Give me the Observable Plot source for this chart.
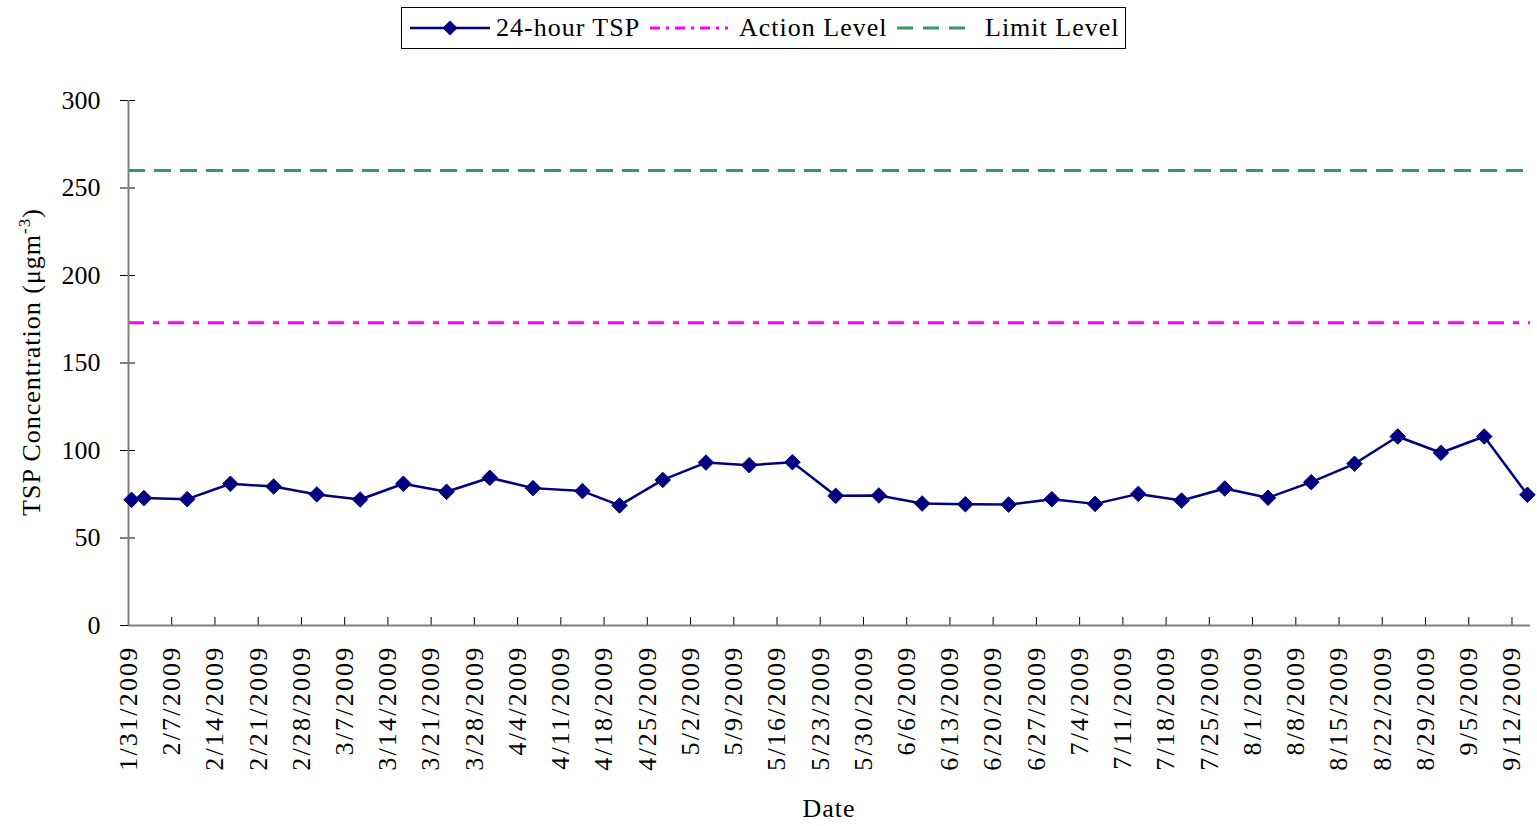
<!DOCTYPE html>
<html>
<head>
<meta charset="utf-8">
<script src="https://cdn.jsdelivr.net/npm/d3@7"></script>
<script src="https://cdn.jsdelivr.net/npm/@observablehq/plot@0.6"></script>
<style>
  html, body { margin: 0; padding: 0; background: #fff; }
  body { width: 1537px; height: 826px; overflow: hidden; font-family: "Liberation Serif", serif; }
  #legend { position: relative; height: 56px; width: 1537px; }
  #legend .box { position: absolute; left: 401px; top: 7px; width: 723px; height: 40px; border: 1px solid #000; }
  #legend .item { position: absolute; top: 7px; height: 42px; display: flex; align-items: center; font-size: 26px; letter-spacing: 1px; color: #000; white-space: nowrap; }
  #legend svg { display: block; }
</style>
</head>
<body>
<div id="legend">
  <div class="box"></div>
  <div class="item" style="left:408px"><svg width="84" height="20" id="lg1"></svg></div>
  <div class="item" style="left:496px">24-hour TSP</div>
  <div class="item" style="left:648px"><svg width="82" height="20" id="lg2"></svg></div>
  <div class="item" style="left:739px">Action Level</div>
  <div class="item" style="left:895px"><svg width="78" height="20" id="lg3"></svg></div>
  <div class="item" style="left:985px">Limit Level</div>
</div>
<div id="chart"></div>
<script>
// ---- Data ----
const dates = ["2009-01-31","2009-02-02","2009-02-09","2009-02-16","2009-02-23","2009-03-02","2009-03-09","2009-03-16","2009-03-23","2009-03-30",
  "2009-04-06","2009-04-14","2009-04-20","2009-04-27","2009-05-04","2009-05-11","2009-05-18","2009-05-25","2009-06-01",
  "2009-06-08","2009-06-15","2009-06-22","2009-06-29","2009-07-06","2009-07-13","2009-07-20","2009-07-27",
  "2009-08-03","2009-08-10","2009-08-17","2009-08-24","2009-08-31","2009-09-07","2009-09-14"];
const tsp = [71.8,72.8,72.2,81.0,79.4,74.9,72.0,81.0,76.4,84.4,
  78.5,76.8,68.6,83.2,93.1,91.6,93.3,74.1,74.3,
  69.7,69.3,69.1,72.2,69.5,75.2,71.4,78.3,
  73.0,81.9,92.4,108.0,98.7,108.0,74.7];
const actionLevel = 173;
const limitLevel = 260;
const xTickDates = ["2009-01-31","2009-02-07","2009-02-14","2009-02-21","2009-02-28","2009-03-07","2009-03-14","2009-03-21","2009-03-28",
  "2009-04-04","2009-04-11","2009-04-18","2009-04-25","2009-05-02","2009-05-09","2009-05-16","2009-05-23","2009-05-30",
  "2009-06-06","2009-06-13","2009-06-20","2009-06-27","2009-07-04","2009-07-11","2009-07-18","2009-07-25",
  "2009-08-01","2009-08-08","2009-08-15","2009-08-22","2009-08-29","2009-09-05","2009-09-12"];
const yTicks = [0,50,100,150,200,250,300];
const xDomain = ["2009-01-31","2009-09-15"];

// ---- Build ----
const HALF_DAY = 12 * 3600 * 1000;
const series = dates.map((d, i) => ({date: new Date(Date.parse(d) + HALF_DAY), value: tsp[i]}));
const xTicks = xTickDates.map(d => new Date(d));
const fmt = d3.utcFormat("%-m/%-d/%Y");
const FONT = "'Liberation Serif', serif";

const chart = Plot.plot({
  width: 1537,
  height: 770,
  marginLeft: 128,
  marginRight: 7,
  marginTop: 44,
  marginBottom: 201,
  style: {fontFamily: FONT, fontSize: "26px", color: "#000", background: "#fff"},
  x: {type: "utc", domain: xDomain.map(d => new Date(d))},
  y: {domain: [0, 300]},
  marks: [
    Plot.ruleY([limitLevel], {stroke: "#339966", strokeWidth: 3, strokeDasharray: "17,9"}),
    Plot.ruleY([actionLevel], {stroke: "#FF00FF", strokeWidth: 3, strokeDasharray: "16,9,6,9"}),
    Plot.axisY({ticks: yTicks, tickSize: 8, tickPadding: 20, label: null, fontSize: 26, stroke: "#000"}),
    Plot.axisY({ticks: yTicks, tickSize: -7, tickFormat: () => "", label: null, stroke: "#000"}),
    Plot.axisX({ticks: xTicks, tickSize: 0, tickPadding: 20, tickRotate: -90, tickFormat: fmt, label: null, fontSize: 26}),
    Plot.axisX({ticks: xTicks, tickSize: -8, tickFormat: () => "", label: null, stroke: "#000"}),
    Plot.ruleX([new Date(xDomain[0])], {stroke: "#808080", strokeWidth: 2}),
    Plot.ruleY([0], {stroke: "#808080", strokeWidth: 2}),
    Plot.line(series, {x: "date", y: "value", stroke: "#000080", strokeWidth: 2.5}),
    Plot.dot(series, {x: "date", y: "value", symbol: "diamond2", r: 7, fill: "#000080", stroke: "#000080", strokeWidth: 1})
  ]
});
document.getElementById("chart").appendChild(chart);

// Letter spacing on x tick labels to approximate the wider original face
d3.select(chart).selectAll("[aria-label='x-axis tick label'] text").attr("letter-spacing", 2.2);

// Axis titles
const svg = d3.select(chart);
const yl = svg.append("text")
  .attr("transform", "translate(40,306) rotate(-90)")
  .attr("text-anchor", "middle")
  .attr("font-family", FONT)
  .attr("font-size", 26)
  .attr("letter-spacing", 1)
  .attr("fill", "#000");
yl.append("tspan").text("TSP Concentration (μgm");
yl.append("tspan").attr("dy", -10).attr("font-size", 17).text("-3");
yl.append("tspan").attr("dy", 10).text(")");
svg.append("text")
  .attr("x", 829).attr("y", 761)
  .attr("text-anchor", "middle")
  .attr("font-family", FONT)
  .attr("font-size", 26)
  .attr("letter-spacing", 1)
  .attr("fill", "#000")
  .text("Date");

// Legend samples
const l1 = d3.select("#lg1");
l1.append("line").attr("x1", 2).attr("x2", 82).attr("y1", 10).attr("y2", 10).attr("stroke", "#000080").attr("stroke-width", 2.5);
l1.append("path").attr("d", "M42,2.5L49.5,10L42,17.5L34.5,10Z").attr("fill", "#000080");
const l2 = d3.select("#lg2");
l2.append("line").attr("x1", 2).attr("x2", 80).attr("y1", 10).attr("y2", 10).attr("stroke", "#FF00FF").attr("stroke-width", 3).attr("stroke-dasharray", "10,6,3,6");
const l3 = d3.select("#lg3");
l3.append("line").attr("x1", 2).attr("x2", 76).attr("y1", 10).attr("y2", 10).attr("stroke", "#339966").attr("stroke-width", 3).attr("stroke-dasharray", "16,10");
</script>
</body>
</html>
